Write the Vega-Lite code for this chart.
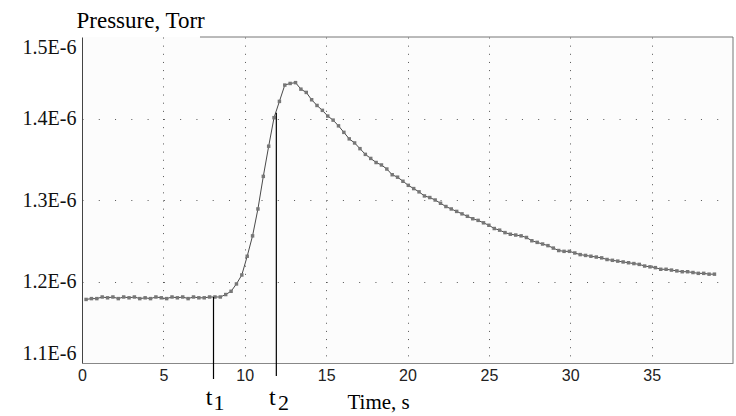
{
  "$schema": "https://vega.github.io/schema/vega-lite/v6.json",
  "autosize": {"type": "none"},
  "width": 651,
  "height": 326,
  "padding": {"left": 82, "top": 37, "right": 3, "bottom": 53},
  "background": "#ffffff",
  "config": {"view": {"stroke": null, "fill": "#fcfcfc"}},
  "datasets": {
    "curve": [
      {"time": 0.25, "pressure": 1.178e-6}, {"time": 0.58, "pressure": 1.179e-6}, {"time": 0.91, "pressure": 1.179e-6},
      {"time": 1.24, "pressure": 1.181e-6}, {"time": 1.57, "pressure": 1.180e-6}, {"time": 1.90, "pressure": 1.181e-6},
      {"time": 2.23, "pressure": 1.179e-6}, {"time": 2.56, "pressure": 1.181e-6}, {"time": 2.89, "pressure": 1.180e-6},
      {"time": 3.22, "pressure": 1.181e-6}, {"time": 3.55, "pressure": 1.179e-6}, {"time": 3.88, "pressure": 1.180e-6},
      {"time": 4.21, "pressure": 1.179e-6}, {"time": 4.54, "pressure": 1.181e-6}, {"time": 4.87, "pressure": 1.180e-6},
      {"time": 5.20, "pressure": 1.179e-6}, {"time": 5.53, "pressure": 1.181e-6}, {"time": 5.86, "pressure": 1.180e-6},
      {"time": 6.19, "pressure": 1.181e-6}, {"time": 6.52, "pressure": 1.179e-6}, {"time": 6.85, "pressure": 1.181e-6},
      {"time": 7.18, "pressure": 1.180e-6}, {"time": 7.51, "pressure": 1.180e-6}, {"time": 7.84, "pressure": 1.181e-6},
      {"time": 8.17, "pressure": 1.181e-6}, {"time": 8.50, "pressure": 1.181e-6}, {"time": 8.83, "pressure": 1.184e-6},
      {"time": 9.16, "pressure": 1.188e-6}, {"time": 9.49, "pressure": 1.197e-6}, {"time": 9.82, "pressure": 1.208e-6},
      {"time": 10.15, "pressure": 1.231e-6}, {"time": 10.48, "pressure": 1.256e-6}, {"time": 10.81, "pressure": 1.289e-6},
      {"time": 11.14, "pressure": 1.329e-6}, {"time": 11.47, "pressure": 1.366e-6}, {"time": 11.80, "pressure": 1.401e-6},
      {"time": 12.13, "pressure": 1.421e-6}, {"time": 12.46, "pressure": 1.441e-6}, {"time": 12.79, "pressure": 1.443e-6},
      {"time": 13.12, "pressure": 1.444e-6}, {"time": 13.45, "pressure": 1.436e-6}, {"time": 13.78, "pressure": 1.432e-6},
      {"time": 14.11, "pressure": 1.423e-6}, {"time": 14.44, "pressure": 1.416e-6}, {"time": 14.77, "pressure": 1.410e-6},
      {"time": 15.10, "pressure": 1.403e-6}, {"time": 15.43, "pressure": 1.398e-6}, {"time": 15.76, "pressure": 1.391e-6},
      {"time": 16.09, "pressure": 1.383e-6}, {"time": 16.42, "pressure": 1.375e-6}, {"time": 16.75, "pressure": 1.370e-6},
      {"time": 17.08, "pressure": 1.363e-6}, {"time": 17.41, "pressure": 1.356e-6}, {"time": 17.74, "pressure": 1.351e-6},
      {"time": 18.07, "pressure": 1.346e-6}, {"time": 18.40, "pressure": 1.343e-6}, {"time": 18.73, "pressure": 1.338e-6},
      {"time": 19.06, "pressure": 1.331e-6}, {"time": 19.39, "pressure": 1.328e-6}, {"time": 19.72, "pressure": 1.323e-6},
      {"time": 20.05, "pressure": 1.318e-6}, {"time": 20.38, "pressure": 1.314e-6}, {"time": 20.71, "pressure": 1.310e-6},
      {"time": 21.04, "pressure": 1.305e-6}, {"time": 21.37, "pressure": 1.303e-6}, {"time": 21.70, "pressure": 1.300e-6},
      {"time": 22.03, "pressure": 1.296e-6}, {"time": 22.36, "pressure": 1.292e-6}, {"time": 22.69, "pressure": 1.289e-6},
      {"time": 23.02, "pressure": 1.286e-6}, {"time": 23.35, "pressure": 1.283e-6}, {"time": 23.68, "pressure": 1.280e-6},
      {"time": 24.01, "pressure": 1.277e-6}, {"time": 24.34, "pressure": 1.275e-6}, {"time": 24.67, "pressure": 1.272e-6},
      {"time": 25.00, "pressure": 1.269e-6}, {"time": 25.33, "pressure": 1.265e-6}, {"time": 25.66, "pressure": 1.263e-6},
      {"time": 25.99, "pressure": 1.260e-6}, {"time": 26.32, "pressure": 1.258e-6}, {"time": 26.65, "pressure": 1.257e-6},
      {"time": 26.98, "pressure": 1.256e-6}, {"time": 27.31, "pressure": 1.254e-6}, {"time": 27.64, "pressure": 1.250e-6},
      {"time": 27.97, "pressure": 1.248e-6}, {"time": 28.30, "pressure": 1.246e-6}, {"time": 28.63, "pressure": 1.244e-6},
      {"time": 28.96, "pressure": 1.241e-6}, {"time": 29.29, "pressure": 1.238e-6}, {"time": 29.62, "pressure": 1.237e-6},
      {"time": 29.95, "pressure": 1.237e-6}, {"time": 30.28, "pressure": 1.235e-6}, {"time": 30.61, "pressure": 1.233e-6},
      {"time": 30.94, "pressure": 1.232e-6}, {"time": 31.27, "pressure": 1.231e-6}, {"time": 31.60, "pressure": 1.230e-6},
      {"time": 31.93, "pressure": 1.229e-6}, {"time": 32.26, "pressure": 1.227e-6}, {"time": 32.59, "pressure": 1.226e-6},
      {"time": 32.92, "pressure": 1.225e-6}, {"time": 33.25, "pressure": 1.224e-6}, {"time": 33.58, "pressure": 1.223e-6},
      {"time": 33.91, "pressure": 1.222e-6}, {"time": 34.24, "pressure": 1.221e-6}, {"time": 34.57, "pressure": 1.219e-6},
      {"time": 34.90, "pressure": 1.218e-6}, {"time": 35.23, "pressure": 1.217e-6}, {"time": 35.56, "pressure": 1.215e-6},
      {"time": 35.89, "pressure": 1.215e-6}, {"time": 36.22, "pressure": 1.214e-6}, {"time": 36.55, "pressure": 1.213e-6},
      {"time": 36.88, "pressure": 1.212e-6}, {"time": 37.21, "pressure": 1.212e-6}, {"time": 37.54, "pressure": 1.211e-6},
      {"time": 37.87, "pressure": 1.210e-6}, {"time": 38.20, "pressure": 1.210e-6}, {"time": 38.53, "pressure": 1.209e-6},
      {"time": 38.86, "pressure": 1.209e-6}
    ],
    "markers": [
      {"marker": "t1", "time": 8.08, "pressure": 1.181e-6, "pressure2": 1.0804e-6},
      {"marker": "t2", "time": 11.94, "pressure": 1.407e-6, "pressure2": 1.084e-6}
    ],
    "frame": [
      {"side": "top", "time": 7.25, "time2": 40, "pressure": 1.5e-6, "pressure2": 1.5e-6},
      {"side": "right", "time": 40, "time2": 40, "pressure": 1.1e-6, "pressure2": 1.5e-6}
    ],
    "labels": [
      {"text": "t", "role": "main", "time": 8.02, "pressure": 1.0485e-6},
      {"text": "1", "role": "sub", "time": 8.08, "pressure": 1.0423e-6},
      {"text": "t", "role": "main", "time": 11.9, "pressure": 1.0485e-6},
      {"text": "2", "role": "sub", "time": 12.04, "pressure": 1.0423e-6}
    ]
  },
  "encoding": {
    "x": {
      "field": "time", "type": "quantitative",
      "scale": {"domain": [0, 40], "nice": false, "zero": false},
      "axis": {
        "values": [0, 5, 10, 15, 20, 25, 30, 35],
        "grid": true, "gridDash": [1, 7.15], "gridColor": "#555555",
        "gridOpacity": {"condition": {"test": "datum.value < 1", "value": 0}, "value": 1},
        "ticks": false, "domainColor": "#888888", "labelFlush": false,
        "labelFont": "Liberation Sans", "labelFontSize": 16, "labelColor": "#222222", "labelPadding": 4,
        "title": "Time, s", "titleFont": "Liberation Serif, Times New Roman, serif", "titleFontSize": 21, "titleFontWeight": "normal",
        "titleColor": "#000000", "titleAlign": "left", "titleBaseline": "middle", "titleX": 265, "titleY": 39
      }
    },
    "y": {
      "field": "pressure", "type": "quantitative",
      "scale": {"domain": [1.1e-6, 1.5e-6], "nice": false, "zero": false},
      "axis": {
        "values": [1.1e-6, 1.2e-6, 1.3e-6, 1.4e-6, 1.5e-6],
        "labelExpr": "format(datum.value * 1e6, '.1f') + 'E-6'",
        "labelFont": "Liberation Serif, Times New Roman, serif", "labelFontSize": 20, "labelColor": "#111111",
        "labelFlush": true, "labelPadding": 6, "ticks": false, "domainColor": "#444444",
        "grid": true, "gridDash": [1, 15.275], "gridColor": "#555555",
        "gridOpacity": {"condition": {"test": "datum.value < 1.15e-6 || datum.value > 1.45e-6", "value": 0}, "value": 1},
        "title": "Pressure, Torr", "titleAngle": 0, "titleAlign": "left", "titleBaseline": "middle",
        "titleX": -6, "titleY": -17, "titleFont": "Liberation Serif, Times New Roman, serif", "titleFontSize": 23,
        "titleFontWeight": "normal", "titleColor": "#000000"
      }
    }
  },
  "layer": [
    {
      "data": {"name": "curve"},
      "mark": {"type": "line", "color": "#4a4a4a", "strokeWidth": 1}
    },
    {
      "data": {"name": "curve"},
      "mark": {"type": "point", "shape": "square", "filled": true, "size": 12, "color": "#777777", "opacity": 1}
    },
    {
      "data": {"name": "frame"},
      "mark": {"type": "rule", "color": "#777777", "strokeWidth": 1},
      "encoding": {
        "x2": {"field": "time2"},
        "y2": {"field": "pressure2"}
      }
    },
    {
      "data": {"name": "markers"},
      "mark": {"type": "rule", "color": "#000000", "strokeWidth": 1.2},
      "encoding": {
        "y2": {"field": "pressure2"}
      }
    },
    {
      "data": {"name": "labels"},
      "transform": [{"filter": "datum.role == 'main'"}],
      "mark": {"type": "text", "font": "Liberation Serif, Times New Roman, serif", "fontSize": 24, "color": "#000000", "baseline": "alphabetic", "align": "right"},
      "encoding": {
        "text": {"field": "text", "type": "nominal"}
      }
    },
    {
      "data": {"name": "labels"},
      "transform": [{"filter": "datum.role == 'sub'"}],
      "mark": {"type": "text", "font": "Liberation Serif, Times New Roman, serif", "fontSize": 22, "color": "#000000", "baseline": "alphabetic", "align": "left"},
      "encoding": {
        "text": {"field": "text", "type": "nominal"}
      }
    }
  ]
}
